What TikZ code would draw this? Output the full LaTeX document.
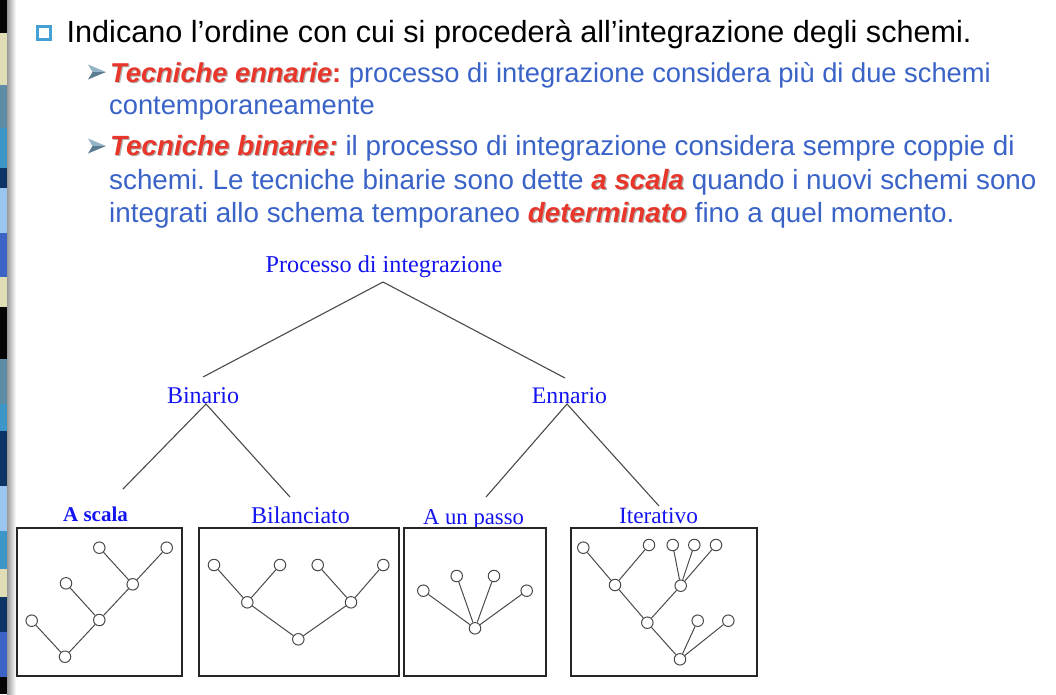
\documentclass[tikz,border=0pt]{standalone}
\usepackage{fontspec}
\setmainfont{Liberation Sans}
\newfontfamily\lblfont{Liberation Serif}

% palette
\definecolor{stBlack}{HTML}{050505}
\definecolor{stCream}{HTML}{E0DDB6}
\definecolor{stSteel}{HTML}{5E8CA4}
\definecolor{stMid}{HTML}{3C96C8}
\definecolor{stNavy}{HTML}{0E3466}
\definecolor{stLight}{HTML}{9CC6F2}
\definecolor{stRoyal}{HTML}{3B64C6}
\definecolor{txtBlue}{HTML}{3A63C8}
\definecolor{txtRed}{HTML}{E8362B}
\definecolor{lblBlue}{HTML}{1414F0}
\definecolor{bulletBlue}{HTML}{45A0D6}
\definecolor{arrowLight}{HTML}{93B3C6}
\definecolor{arrowDark}{HTML}{5B7B91}
\definecolor{edgeGrey}{HTML}{4A4A4A}

% emphasised red words with a soft drop shadow
\newcommand\hot[1]{{\bfseries\itshape\rlap{\kern1.2pt\raisebox{-1.2pt}{\color{black!30}#1}}\color{txtRed}#1}}

\tikzset{
  line/.style={anchor=base west, inner sep=0pt, font=\fontsize{#1}{32}\selectfont, text=txtBlue},
  line/.default=27.3,
  lbl/.style={anchor=base, inner sep=0pt, text=lblBlue, font=\lblfont\fontsize{#1}{28}\selectfont},
  lbl/.default=24,
  link/.style={draw=edgeGrey, line width=1.1pt},
  box/.style={draw=black!85, line width=1.3pt, inner sep=0pt},
  tn/.style={circle, draw=edgeGrey, fill=white, line width=1pt, minimum size=11.5pt, inner sep=0pt},
  te/.style={draw=edgeGrey, line width=1pt},
}

\begin{document}
\frenchspacing
\begin{tikzpicture}[x=1pt, y=-1pt]
\useasboundingbox (0,0) rectangle (1056,694);
\fill[white] (0,0) rectangle (1056,694);

% decorative colour stripe at the left edge
\foreach \a/\b/\c in {0/33/stBlack, 33/85/stCream, 85/128/stSteel, 128/168/stMid,
  168/188/stNavy, 188/233/stLight, 233/277/stRoyal, 277/307/stCream,
  307/359/stBlack, 359/404/stSteel, 404/431/stMid, 431/486/stNavy,
  486/531/stLight, 531/569/stMid, 569/597/stCream, 597/632/stNavy,
  632/677/stRoyal, 677/694/stBlack}
  \fill[\c] (0,\a) rectangle (7,\b);
\shade[left color=black!40, right color=white] (7,0) rectangle (16,694);

% bullets
\node[draw=bulletBlue, line width=3pt, minimum size=13pt, inner sep=0pt] (sq) at (43.5,32.5) {};
\foreach \n/\y in {arrA/72, arrB/146} {
  \fill[arrowLight] (88,\y-7.5) -- (106,\y) -- (92.5,\y) -- cycle;
  \fill[arrowDark] (88,\y+7.5) -- (106,\y) -- (92.5,\y) -- cycle;
  \coordinate (\n) at (97,\y);
}

% text
\node[anchor=base west, inner sep=0pt, font=\fontsize{30.6}{36}\selectfont] (t0) at (66.5,42)
  {Indicano l’ordine con cui si procederà all’integrazione degli schemi.};
\node[line] (t1) at (110,82) {\hot{Tecniche ennarie}{\color{txtRed}\bfseries:} processo di integrazione considera più di due schemi};
\node[line] (t2) at (109,114) {contemporaneamente};
\node[line=27.8] (t3) at (110,155) {\hot{Tecniche binarie:} il processo di integrazione considera sempre coppie di};
\node[line=27.8] (t4) at (109,189) {schemi. Le tecniche binarie sono dette \hot{a scala} quando i nuovi schemi sono};
\node[line=27.8] (t5) at (109,222) {integrati allo schema temporaneo \hot{determinato} fino a quel momento.};

% classification tree
\node[lbl=24.2] (proc) at (384,272) {Processo di integrazione};
\node[lbl] (bin) at (203,403) {Binario};
\node[lbl=23.7] (enn) at (569.5,403) {Ennario};
\node[lbl=21] (asc) at (95.5,521) {\bfseries A scala};
\node[lbl] (bil) at (300.5,523) {Bilanciato};
\node[lbl=22.7] (unp) at (473.5,524) {A un passo};
\node[lbl=23.3] (itr) at (658.5,523) {Iterativo};

\coordinate (procApex) at (383,282);
\coordinate (binTop) at (203,377);
\coordinate (ennTop) at (565,378);
\coordinate (binApex) at (206,404);
\coordinate (ennApex) at (567,404);
\coordinate (ascTop) at (123,489);
\coordinate (bilTop) at (290,497);
\coordinate (unpTop) at (486,497);
\coordinate (itrTop) at (659,506);
\draw[link] (binTop) -- (procApex) -- (ennTop);
\draw[link] (ascTop) -- (binApex) -- (bilTop);
\draw[link] (unpTop) -- (ennApex) -- (itrTop);

% frames
\node[box, minimum width=165pt, minimum height=148pt] (boxA) at (99.5,602) {};
\node[box, minimum width=200pt, minimum height=148pt] (boxB) at (299,602) {};
\node[box, minimum width=142pt, minimum height=148pt] (boxC) at (475,602) {};
\node[box, minimum width=186pt, minimum height=148pt] (boxD) at (664,602) {};

% ladder merge
\node[tn] (a1) at (99.3,547.7) {};
\node[tn] (a2) at (166.7,547.7) {};
\node[tn] (a3) at (66,583.3) {};
\node[tn] (a4) at (132.7,584.3) {};
\node[tn] (a5) at (31.7,620.7) {};
\node[tn] (a6) at (99.3,620) {};
\node[tn] (a7) at (65,656.7) {};
\draw[te] (a1) -- (a4) (a2) -- (a4) (a4) -- (a6) (a3) -- (a6) (a6) -- (a7) (a5) -- (a7);

% balanced merge
\node[tn] (b1) at (214,565) {};
\node[tn] (b2) at (280,565) {};
\node[tn] (b3) at (317.7,565) {};
\node[tn] (b4) at (383.3,565) {};
\node[tn] (b5) at (247.3,602.3) {};
\node[tn] (b6) at (351,602.3) {};
\node[tn] (b7) at (298.3,639.3) {};
\draw[te] (b1) -- (b5) (b2) -- (b5) (b3) -- (b6) (b4) -- (b6) (b5) -- (b7) (b6) -- (b7);

% one-shot merge
\node[tn] (c1) at (423.3,590.7) {};
\node[tn] (c2) at (456.7,576) {};
\node[tn] (c3) at (494,576) {};
\node[tn] (c4) at (526.7,590.7) {};
\node[tn] (c5) at (475,628.3) {};
\draw[te] (c1) -- (c5) (c2) -- (c5) (c3) -- (c5) (c4) -- (c5);

% iterative merge
\node[tn] (d1) at (583.3,547.7) {};
\node[tn] (d2) at (649,545) {};
\node[tn] (d3) at (672.7,545) {};
\node[tn] (d4) at (694.3,545) {};
\node[tn] (d5) at (716,545) {};
\node[tn] (d6) at (615,585) {};
\node[tn] (d7) at (680.7,585.7) {};
\node[tn] (d8) at (647.3,622.7) {};
\node[tn] (d9) at (697.7,620.7) {};
\node[tn] (d10) at (728.3,620.7) {};
\node[tn] (d11) at (680,659.3) {};
\draw[te] (d1) -- (d6) (d2) -- (d6) (d3) -- (d7) (d4) -- (d7) (d5) -- (d7)
  (d6) -- (d8) (d7) -- (d8) (d8) -- (d11) (d9) -- (d11) (d10) -- (d11);
\end{tikzpicture}
\end{document}
